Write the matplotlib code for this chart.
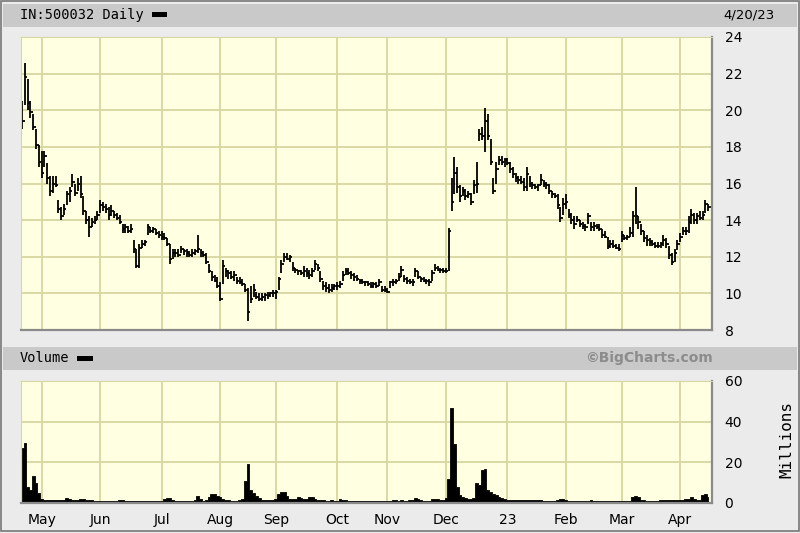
import numpy as np
import pandas as pd
import matplotlib
matplotlib.use('Agg')
import matplotlib.pyplot as plt
from matplotlib.patches import Rectangle

# Trading days (BSE calendar, holidays removed)
holidays = ['2022-05-03', '2022-08-09', '2022-08-15', '2022-08-31', '2022-10-05',
            '2022-10-24', '2022-10-26', '2022-11-08', '2023-01-26', '2023-03-07',
            '2023-03-30', '2023-04-04', '2023-04-07', '2023-04-14']
dates = pd.bdate_range('2022-04-21', '2023-04-20', freq='C', holidays=holidays)

# daily high / low / close, one row per month
high = [20.5, 22.6, 21.7, 20.5, 19.8, 19.0, 18.1,
        17.8, 17.8, 17.1, 16.4, 16.4, 16.4, 15.1, 14.7, 14.9, 15.6, 15.8, 16.5, 16.0, 16.3, 16.4, 15.3, 14.5, 14.2, 14.1, 14.2, 14.5,
        15.1, 15.0, 14.9, 14.7, 14.8, 14.5, 14.4, 14.3, 13.8, 13.8, 13.7, 13.8, 12.9, 12.4, 12.7, 12.9, 12.9, 13.8, 13.6, 13.6, 13.5, 13.4,
        13.4, 13.3, 13.0, 12.7, 12.4, 12.4, 12.4, 12.6, 12.4, 12.4, 12.3, 12.4, 12.4, 13.2, 12.4, 12.3, 12.2, 11.6, 11.2, 11.0, 10.9,
        10.6, 11.8, 11.4, 11.3, 11.2, 11.2, 10.9, 10.9, 10.8, 10.5, 10.3, 10.4, 10.5, 10.1, 10.0, 10.0, 10.0, 10.1, 10.1, 10.2,
        10.2, 10.9, 11.8, 12.2, 12.2, 12.1, 11.7, 11.4, 11.3, 11.3, 11.5, 11.4, 11.3, 11.4, 11.8, 11.6, 11.2, 10.7, 10.6, 10.5, 10.5, 10.5,
        10.6, 10.7, 11.2, 11.4, 11.4, 11.2, 11.1, 11.0, 10.8, 10.8, 10.7, 10.7, 10.6, 10.6, 10.6, 10.8, 10.4, 10.4,
        10.3, 10.7, 10.8, 10.8, 11.1, 11.5, 11.0, 10.9, 10.8, 10.8, 11.4, 11.2, 10.9, 10.9, 10.8, 10.8, 11.3, 11.6, 11.5, 11.4, 11.4,
        11.4, 13.55, 16.3, 17.45, 16.9, 15.9, 15.8, 15.7, 15.6, 15.5, 16.2, 17.2, 19.0, 19.1, 20.1, 19.8, 18.45, 16.3, 17.2, 17.5, 17.5, 17.4,
        17.4, 17.2, 16.9, 16.6, 16.4, 16.4, 16.3, 16.9, 16.4, 16.1, 16.0, 16.0, 16.5, 16.2, 16.1, 16.0, 15.6, 15.5, 15.4, 14.7, 15.2,
        15.4, 14.6, 14.4, 14.2, 14.2, 14.0, 13.9, 13.8, 14.4, 13.9, 13.9, 13.8, 13.8, 13.5, 13.4, 13.1, 12.9, 12.9, 12.7, 12.7,
        13.4, 13.2, 13.2, 13.6, 14.5, 15.8, 14.2, 13.8, 13.4, 13.2, 13.0, 12.9, 12.8, 12.8, 12.8, 13.2, 13.0, 12.6, 12.2, 12.4, 12.9,
        13.3, 13.6, 13.6, 14.2, 14.6, 14.4, 14.4, 14.5, 14.5, 15.1, 14.9]
low = [19.0, 20.3, 20.0, 19.6, 18.9, 17.9, 16.9,
       16.3, 16.9, 16.0, 15.3, 15.5, 15.8, 14.4, 14.0, 14.3, 14.8, 15.0, 15.8, 15.3, 15.6, 15.2, 14.3, 13.8, 13.1, 13.6, 13.8, 14.0,
       14.4, 14.5, 14.4, 14.0, 14.2, 14.1, 14.0, 13.8, 13.3, 13.3, 13.3, 13.3, 12.2, 11.4, 11.4, 12.5, 12.6, 13.2, 13.3, 13.3, 13.2, 13.0,
       12.9, 12.9, 12.6, 11.6, 11.9, 12.0, 12.0, 12.2, 12.1, 12.0, 12.0, 12.0, 12.1, 12.2, 12.0, 12.0, 11.6, 11.1, 10.7, 10.6, 10.3,
       9.6, 10.5, 10.9, 10.8, 10.8, 10.7, 10.5, 10.5, 10.4, 10.1, 8.5, 9.5, 9.8, 9.7, 9.6, 9.6, 9.6, 9.7, 9.8, 9.8,
       9.7, 10.2, 11.1, 11.7, 11.8, 11.7, 11.2, 11.1, 11.0, 11.0, 10.9, 10.9, 10.8, 10.9, 11.3, 11.2, 10.6, 10.2, 10.1, 10.0, 10.1, 10.2,
       10.2, 10.3, 10.7, 11.0, 11.0, 10.8, 10.7, 10.7, 10.5, 10.5, 10.4, 10.4, 10.3, 10.3, 10.3, 10.4, 10.1, 10.1,
       10.0, 10.3, 10.4, 10.5, 10.7, 10.9, 10.6, 10.5, 10.5, 10.4, 10.9, 10.8, 10.6, 10.6, 10.5, 10.4, 10.7, 11.2, 11.2, 11.1, 11.1,
       11.1, 11.2, 14.5, 15.4, 15.5, 15.0, 15.3, 15.1, 15.2, 14.8, 15.4, 15.5, 18.3, 18.4, 17.7, 18.4, 17.0, 15.4, 16.0, 17.0, 17.0, 16.9,
       17.0, 16.6, 16.3, 16.1, 16.0, 16.0, 15.6, 15.6, 15.8, 15.7, 15.7, 15.6, 15.9, 15.8, 15.7, 15.4, 15.2, 15.2, 14.6, 13.9, 14.3,
       14.6, 14.1, 13.8, 13.5, 13.9, 13.6, 13.5, 13.4, 13.8, 13.4, 13.4, 13.5, 13.4, 13.0, 13.0, 12.4, 12.5, 12.5, 12.4, 12.3,
       12.8, 12.9, 12.9, 13.1, 13.1, 13.8, 13.5, 13.2, 12.8, 12.6, 12.6, 12.6, 12.5, 12.5, 12.5, 12.6, 12.5, 11.9, 11.55, 11.7, 12.35,
       12.8, 13.2, 13.2, 13.3, 13.8, 13.8, 13.8, 14.0, 14.0, 14.4, 14.5]
close = [19.4, 21.8, 20.4, 19.9, 19.1, 18.1, 17.2,
         16.6, 17.5, 16.3, 15.6, 16.0, 15.9, 14.6, 14.2, 14.6, 15.4, 15.6, 16.1, 15.5, 16.0, 15.4, 14.5, 14.0, 13.6, 13.9, 14.0, 14.3,
         14.8, 14.7, 14.6, 14.3, 14.5, 14.3, 14.1, 13.9, 13.5, 13.6, 13.4, 13.5, 12.4, 11.5, 12.5, 12.7, 12.8, 13.6, 13.4, 13.5, 13.3, 13.2,
         13.1, 13.0, 12.7, 11.9, 12.2, 12.2, 12.1, 12.4, 12.3, 12.2, 12.1, 12.2, 12.3, 12.4, 12.2, 12.1, 11.7, 11.2, 10.9, 10.7, 10.4,
         9.7, 11.5, 11.2, 11.1, 10.9, 11.0, 10.7, 10.6, 10.5, 10.2, 9.0, 9.7, 10.2, 9.8, 9.7, 9.8, 9.9, 9.9, 10.0, 10.0,
         10.1, 10.8, 11.6, 12.0, 11.9, 12.0, 11.4, 11.3, 11.2, 11.1, 11.2, 11.1, 11.0, 11.2, 11.6, 11.4, 10.8, 10.4, 10.3, 10.2, 10.3, 10.4,
         10.4, 10.5, 11.0, 11.2, 11.1, 11.0, 10.9, 10.8, 10.7, 10.6, 10.6, 10.5, 10.4, 10.5, 10.4, 10.6, 10.2, 10.2,
         10.1, 10.6, 10.6, 10.7, 10.9, 11.3, 10.8, 10.7, 10.6, 10.6, 11.2, 10.9, 10.8, 10.7, 10.7, 10.6, 11.1, 11.4, 11.3, 11.3, 11.2,
         11.2, 13.4, 15.0, 16.6, 15.8, 15.3, 15.6, 15.3, 15.4, 15.0, 15.9, 16.0, 18.7, 18.6, 19.4, 18.6, 17.2, 15.6, 16.8, 17.3, 17.2, 17.3,
         17.1, 16.8, 16.5, 16.3, 16.2, 16.1, 15.8, 16.5, 16.0, 15.9, 15.8, 15.9, 16.2, 16.0, 15.9, 15.6, 15.4, 15.3, 14.8, 14.1, 14.9,
         15.0, 14.3, 14.0, 13.8, 14.0, 13.8, 13.7, 13.6, 14.2, 13.6, 13.7, 13.6, 13.5, 13.2, 13.1, 12.6, 12.7, 12.6, 12.5, 12.4,
         13.2, 13.0, 13.1, 13.3, 14.2, 14.2, 13.9, 13.4, 13.0, 12.9, 12.8, 12.7, 12.6, 12.6, 12.7, 12.9, 12.7, 12.1, 11.7, 12.2, 12.7,
         13.1, 13.4, 13.4, 13.9, 14.3, 14.0, 14.2, 14.1, 14.3, 14.9, 14.7]

# volume in millions
volume = [27.0, 29.5, 8.0, 6.5, 13.5, 10.0, 5.0,
          2.2, 1.6, 1.5, 1.4, 1.4, 1.3, 1.3, 1.4, 1.6, 2.6, 2.2, 1.5, 1.4, 1.5, 1.8, 1.8, 1.7, 1.4, 1.3, 1.2, 1.2,
          1.2, 1.1, 1.1, 1.2, 1.1, 1.0, 1.2, 1.4, 1.3, 1.2, 1.1, 1.1, 1.0, 1.2, 1.0, 1.0, 1.0, 1.1, 1.0, 1.0, 1.0, 1.0,
          1.0, 2.2, 2.5, 2.4, 1.5, 1.2, 1.0, 0.9, 0.9, 1.0, 1.0, 1.0, 1.6, 3.4, 2.2, 1.2, 1.5, 2.8, 4.3, 4.3, 3.6,
          3.0, 2.0, 1.5, 1.3, 1.2, 1.2, 1.2, 1.3, 2.0, 11.0, 19.2, 6.4, 5.0, 3.5, 2.5, 1.5, 1.4, 1.5, 1.5, 1.6,
          2.0, 4.5, 5.6, 5.5, 3.5, 2.2, 2.0, 1.8, 2.8, 2.6, 1.8, 1.8, 2.8, 2.8, 2.2, 1.6, 1.4, 1.3, 1.2, 1.2, 1.3, 1.2,
          1.2, 1.8, 1.6, 1.3, 1.2, 1.2, 1.1, 1.1, 1.1, 1.0, 1.0, 1.2, 1.1, 1.0, 1.0, 1.0, 1.1, 1.2,
          1.2, 1.2, 1.3, 1.3, 1.2, 1.3, 1.2, 1.2, 1.4, 1.6, 2.3, 2.0, 1.3, 1.2, 1.1, 1.1, 1.8, 1.9, 1.8, 1.7, 1.5,
          2.5, 12.0, 46.5, 29.0, 8.0, 4.0, 3.0, 2.5, 1.8, 1.8, 2.5, 9.7, 9.0, 16.2, 16.6, 6.4, 5.6, 4.5, 4.0, 3.0, 2.5, 2.0,
          1.6, 1.4, 1.3, 1.3, 1.3, 1.3, 1.3, 1.3, 1.3, 1.3, 1.3, 1.3, 1.3, 1.2, 1.2, 1.1, 1.1, 1.0, 1.4, 1.8, 1.8,
          1.6, 1.2, 1.1, 1.0, 1.0, 1.0, 1.0, 1.0, 1.2, 1.3, 1.1, 1.0, 1.0, 1.1, 1.1, 1.1, 1.1, 1.1, 1.1, 1.1,
          1.1, 1.1, 1.1, 1.2, 2.8, 3.2, 3.0, 1.6, 1.3, 1.2, 1.2, 1.2, 1.2, 1.2, 1.4, 1.6, 1.6, 1.7, 1.6, 1.4, 1.4,
          1.5, 1.6, 1.8, 2.2, 3.1, 2.0, 1.4, 1.6, 4.0, 4.2, 2.8]

price_ticks = list(range(8, 25, 2))
vol_ticks = [0, 20, 40, 60]

n = len(dates)
x = np.arange(n)

# first trading day of each month -> grid lines / labels
month_idx = [i for i in range(1, n) if dates[i].month != dates[i - 1].month]
month_lab = ['23' if dates[i].month == 1 else dates[i].strftime('%b') for i in month_idx]

W, H = 800, 533
BG = '#ebebeb'
BAR = '#c9c9c9'
PLOT_BG = '#ffffe2'
GRID = '#d8d6a0'

fig = plt.figure(figsize=(W / 100, H / 100), dpi=100)
fig.patch.set_facecolor(BG)


def fx(px):
    return px / W


def fy(py):
    return 1 - py / H


def rect(x0, y0, x1, y1, **kw):
    fig.patches.append(Rectangle((fx(x0), fy(y1)), (x1 - x0) / W, (y1 - y0) / H,
                                 transform=fig.transFigure, **kw))


# header strips
rect(3, 4, 797, 27, facecolor=BAR, edgecolor='none')
rect(3, 347, 797, 370, facecolor=BAR, edgecolor='none')
rect(152, 12.5, 167, 17, facecolor='black', edgecolor='none')
rect(77, 356, 93, 360.5, facecolor='black', edgecolor='none')
rect(1, 1, 799, 531, facecolor='none', edgecolor='#777777', lw=1.2)

mono = 'DejaVu Sans Mono'
fig.text(fx(20), fy(15.5), 'IN:500032 Daily', family=mono, fontsize=9.8, va='center', ha='left')
fig.text(fx(723), fy(15.5), '4/20/23', fontsize=9.5, va='center', ha='left')
fig.text(fx(20), fy(358.5), 'Volume', family=mono, fontsize=9.8, va='center', ha='left')
fig.text(fx(713), fy(358), '\u00a9BigCharts.com', fontsize=10, weight='bold',
         color='#8c8c8c', va='center', ha='right')
fig.text(fx(787), fy(439), 'Millions', family=mono, fontsize=11.5, rotation=90,
         va='center', ha='center')

ax = fig.add_axes([fx(21), fy(330), 691 / W, 293 / H])
axv = fig.add_axes([fx(21), fy(503), 691 / W, 122 / H])

for a in (ax, axv):
    a.set_facecolor(PLOT_BG)
    a.set_xlim(-0.4, n + 0.4)
    a.set_xticks(month_idx)
    a.grid(True, color=GRID, lw=1.3)
    a.set_axisbelow(True)
    a.yaxis.tick_right()
    a.tick_params(length=0, labelsize=10, pad=9)
    for s in ('top', 'left'):
        a.spines[s].set_color(GRID)
    for s in ('bottom', 'right'):
        a.spines[s].set_color('#8a8a8a')
        a.spines[s].set_linewidth(1.6)

# price bars (high-low with close tick)
ax.vlines(x, low, high, color='black', lw=1.3)
ax.hlines(close, x, x + 0.9, color='black', lw=1.3)
ax.set_ylim(8, 24)
ax.set_yticks(price_ticks)
ax.tick_params(axis='x', labelbottom=False)

# volume
axv.fill_between(x, volume, step='mid', color='black', lw=0.6, edgecolor='black')
axv.set_ylim(0, 60)
axv.set_yticks(vol_ticks)
axv.set_xticklabels(month_lab)
axv.tick_params(axis='x', pad=7)

fig.savefig('out.png', dpi=100, facecolor=BG)
